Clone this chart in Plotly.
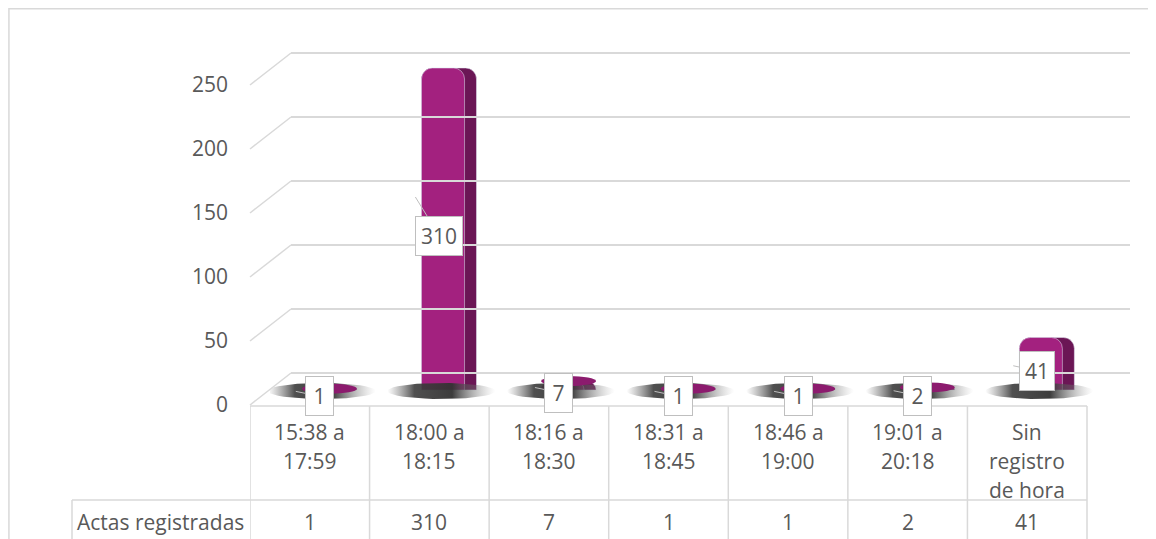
import math
import plotly.graph_objects as go

# ---------------- data ----------------
categories = ["15:38 a<br>17:59", "18:00 a<br>18:15", "18:16 a<br>18:30",
              "18:31 a<br>18:45", "18:46 a<br>19:00", "19:01 a<br>20:18",
              "Sin<br>registro<br>de hora"]
values = [1, 310, 7, 1, 1, 2, 41]
series_name = "Actas registradas"
y_ticks = [0, 50, 100, 150, 200, 250]

# ---------------- geometry / style ----------------
OFF = 8                           # page body margin
W, H = 1156 - OFF, 539 - OFF
def px(x): return (x - OFF) / W
def py(y): return 1 - (y - OFF) / H

FONT = "Open Sans"
TXT = "#595959"
GRID = "#D9D9D9"
FRONT = "#A3217F"
SIDE = "#6B1655"
CAP = "#8C1B6E"
FS = 21

SCALE = 1.28                      # pixels per unit on the value axis
X0, X1 = 250, 1087                # front plane (table columns)
COLW = (X1 - X0) / len(categories)
Y0F = 405                         # zero on the front plane
YMAX = max(y_ticks)
FRONT_YMAX = YMAX + 30            # room for the perspective diagonals
DXB, DYB = 20, 15                 # bar plane offset (mid depth)
BAR_ZERO = Y0F - DYB
BAR_TOP_PX = 68
BAR_CLIP = (BAR_ZERO - BAR_TOP_PX) / SCALE   # value where the chart clips bars
BAR_YMAX = BAR_CLIP + 6
BAR_YMIN = -15
DXW, DYW = 41, 32                 # back wall offset
GRID_RIGHT = 1130
WALL_PAD = 2

idx = list(range(len(categories)))
shown = [min(v, BAR_CLIP) for v in values]   # bars are cut at the top of the chart
fig = go.Figure()

# shadows on the floor
for i in idx:
    xs, ys = [], []
    for k in range(41):
        t = 2 * math.pi * k / 40
        xs.append(i + (-8 + 54 * math.cos(t)) / COLW)
        ys.append((8 * math.sin(t) - 1) / SCALE)
    fig.add_trace(go.Scatter(
        x=xs, y=ys, xaxis="x2", yaxis="y2", mode="lines", fill="toself",
        line=dict(width=0, color="rgba(0,0,0,0)"),
        fillgradient=dict(type="horizontal", colorscale=[
            [0, "rgba(110,110,110,0)"], [0.25, "rgba(60,60,60,0.9)"],
            [0.6, "rgba(50,50,50,0.95)"], [1, "rgba(160,160,160,0)"]]),
        hoverinfo="skip", showlegend=False))

# bar side (darker) and front faces
fig.add_trace(go.Bar(x=idx, y=shown, xaxis="x2", yaxis="y2", width=0.46,
                     offset=-0.233, marker=dict(color=SIDE, cornerradius=11),
                     hoverinfo="skip", showlegend=False))
fig.add_trace(go.Bar(x=idx, y=shown, xaxis="x2", yaxis="y2", width=0.36,
                     offset=-0.233, marker=dict(color=FRONT, cornerradius=11),
                     customdata=values, hovertemplate="%{customdata}<extra></extra>",
                     name=series_name, showlegend=False))

# invisible traces to create the front and back-wall subplots
fig.add_trace(go.Scatter(x=[0], y=[0], xaxis="x", yaxis="y", mode="markers",
                         marker=dict(opacity=0), hoverinfo="skip", showlegend=False))
fig.add_trace(go.Scatter(x=[0], y=[0], xaxis="x3", yaxis="y3", mode="markers",
                         marker=dict(opacity=0), hoverinfo="skip", showlegend=False))

shapes = []
# chart border
shapes.append(dict(type="rect", xref="paper", yref="paper", x0=0.0008, x1=1.02,
                   y0=-0.02, y1=0.9985, line=dict(color=GRID, width=1.5)))
# diagonals from front ticks to back wall
for t in y_ticks:
    shapes.append(dict(type="line", xref="paper", yref="y", xsizemode="pixel",
                       ysizemode="pixel", xanchor=px(X0), yanchor=t,
                       x0=0, x1=DXW, y0=0, y1=DYW,
                       line=dict(color=GRID, width=1.5)))
# caps (top faces) of the very short bars
for i, v in zip(idx, values):
    if v * SCALE < 12:
        shapes.append(dict(type="circle", xref="x2", yref="y2", ysizemode="pixel",
                           yanchor=v, x0=i - 0.233, x1=i + 0.227, y0=-5, y1=5,
                           fillcolor=CAP, line=dict(width=0), layer="above"))
# table lines
shapes.append(dict(type="line", xref="x", yref="paper", x0=-0.5, x1=len(idx) - 0.5,
                   y0=py(Y0F + 1), y1=py(Y0F + 1), line=dict(color=GRID, width=1.5)))
for i in range(len(idx) + 1):
    shapes.append(dict(type="line", xref="x", yref="paper", x0=i - 0.5, x1=i - 0.5,
                       y0=py(Y0F + 1), y1=-0.02, line=dict(color=GRID, width=1.5)))
shapes.append(dict(type="line", xref="paper", yref="paper", x0=px(72), x1=px(X1),
                   y0=py(500), y1=py(500), line=dict(color=GRID, width=1.5)))
shapes.append(dict(type="line", xref="paper", yref="paper", x0=px(72), x1=px(72),
                   y0=py(500), y1=-0.02, line=dict(color=GRID, width=1.5)))

annotations = []
# data callouts (box centre slightly left of the bar, tail pointing up-left)
for i, v, s in zip(idx, values, shown):
    ax = 24
    ay = 39 if s * SCALE > 100 else 5
    annotations.append(dict(
        xref="x2", yref="y2", x=i - (10 + ax) / COLW, y=s / 2, yshift=ay - 7,
        text=str(v), showarrow=True, arrowhead=0, arrowwidth=1,
        arrowcolor="#BFBFBF", ax=ax, ay=ay, standoff=0,
        bgcolor="white", bordercolor="#BFBFBF", borderwidth=1, borderpad=5,
        width=17 if len(str(v)) == 1 else None,
        font=dict(family=FONT, size=FS, color=TXT)))
# table: category labels
for i, cat in zip(idx, categories):
    for j, line in enumerate(cat.split("<br>")):
        annotations.append(dict(xref="x", yref="paper", x=i, y=py(432 + 29 * j),
                                text=line, showarrow=False, xanchor="center",
                                yanchor="middle",
                                font=dict(family=FONT, size=FS, color=TXT)))
# table: values row
for i, v in zip(idx, values):
    annotations.append(dict(xref="x", yref="paper", x=i, y=py(522), text=str(v),
                            showarrow=False, xanchor="center", yanchor="middle",
                            font=dict(family=FONT, size=FS, color=TXT)))
annotations.append(dict(xref="paper", yref="paper", x=px(160), y=py(522),
                        text=series_name, showarrow=False, xanchor="center",
                        yanchor="middle",
                        font=dict(family=FONT, size=FS, color=TXT)))

hidden_x = dict(showgrid=False, zeroline=False, showticklabels=False,
                showline=False, ticks="", automargin=False,
                range=[-0.5, len(idx) - 0.5])

wall_lo, wall_hi = -WALL_PAD, YMAX + WALL_PAD
fig.update_layout(
    width=W, height=H, autosize=False,
    margin=dict(l=0, r=0, t=0, b=0, pad=0),
    paper_bgcolor="white", plot_bgcolor="rgba(0,0,0,0)",
    barmode="overlay", showlegend=False,
    xaxis=dict(domain=[px(X0), px(X1 + 60)], anchor="y", **{**hidden_x,
               "range": [-0.5, len(idx) - 0.5 + 60 / COLW]}),
    yaxis=dict(domain=[py(Y0F), py(Y0F - FRONT_YMAX * SCALE)], anchor="x",
               range=[0, FRONT_YMAX], tickvals=y_ticks, showgrid=False,
               zeroline=False, showline=False, ticks="", ticklabelstandoff=21,
               automargin=False, tickfont=dict(family=FONT, size=FS, color=TXT)),
    xaxis2=dict(domain=[px(X0 + DXB), px(X1 + DXB)], anchor="y2", **hidden_x),
    yaxis2=dict(domain=[py(BAR_ZERO - BAR_YMIN * SCALE),
                        py(BAR_ZERO - BAR_YMAX * SCALE)],
                anchor="x2", range=[BAR_YMIN, BAR_YMAX], showgrid=False,
                zeroline=False, showticklabels=False, showline=False,
                automargin=False),
    xaxis3=dict(domain=[px(X0 + DXW), px(GRID_RIGHT)], anchor="y3", **hidden_x),
    yaxis3=dict(domain=[py(Y0F - DYW - wall_lo * SCALE),
                        py(Y0F - DYW - wall_hi * SCALE)], anchor="x3",
                range=[wall_lo, wall_hi], tickvals=y_ticks, showgrid=True,
                gridcolor=GRID, gridwidth=1.5, zeroline=False,
                showticklabels=False, showline=False, automargin=False),
    shapes=shapes, annotations=annotations,
)

fig.write_html("out.html")
